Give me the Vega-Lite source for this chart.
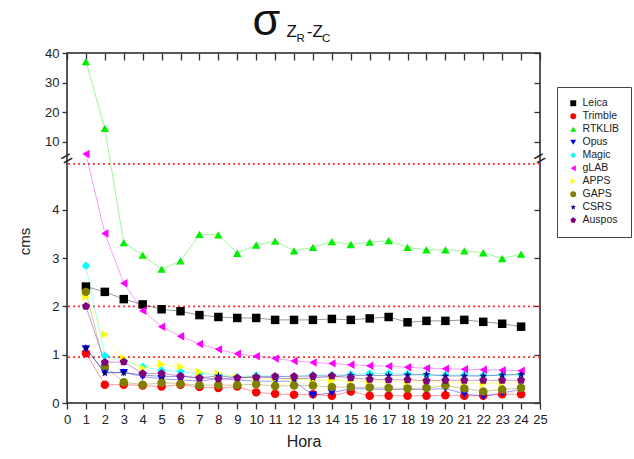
{
  "$schema": "https://vega.github.io/schema/vega-lite/v6.json",
  "width": 473,
  "height": 350,
  "autosize": {"type": "none"},
  "padding": {"left": 67, "top": 53, "right": 94, "bottom": 56},
  "background": "white",
  "config": {
    "font": "Liberation Sans",
    "view": {"stroke": "#222", "strokeWidth": 1.5},
    "axis": {"grid": false, "domain": false, "labelColor": "#222", "tickColor": "#333", "tickWidth": 1.3, "labelFontSize": 13, "titleFontWeight": "normal", "titleColor": "#222"},
    "legend": {"strokeColor": "#444", "padding": 11, "labelFontSize": 10.5, "labelColor": "#222", "symbolSize": 35, "rowPadding": 2, "labelOffset": 4}
  },
  "title": {
    "text": "σ",
    "subtitle": "\u200b\u2003\u2003Z\u2002\u200a-Z",
    "anchor": "middle",
    "align": "left",
    "dx": -51,
    "fontSize": 45,
    "fontWeight": "normal",
    "color": "#111",
    "subtitleFontSize": 17,
    "subtitleColor": "#111",
    "subtitlePadding": -20,
    "offset": -12
  },
  "datasets": {
    "series": [
      {"h": 1, "Leica": 2.41, "Trimble": 1.03, "RTKLIB": 37.1, "Opus": 1.12, "Magic": 2.84, "gLAB": 6.5, "APPS": 2.2, "GAPS": 2.30, "CSRS": 1.14, "Auspos": 2.00},
      {"h": 2, "Leica": 2.30, "Trimble": 0.38, "RTKLIB": 14.5, "Opus": 0.64, "Magic": 0.98, "gLAB": 3.51, "APPS": 1.42, "GAPS": 0.76, "CSRS": 0.62, "Auspos": 0.84},
      {"h": 3, "Leica": 2.15, "Trimble": 0.38, "RTKLIB": 3.32, "Opus": 0.63, "Magic": 0.88, "gLAB": 2.48, "APPS": 0.92, "GAPS": 0.43, "CSRS": 0.63, "Auspos": 0.85},
      {"h": 4, "Leica": 2.04, "Trimble": 0.36, "RTKLIB": 3.06, "Opus": 0.55, "Magic": 0.75, "gLAB": 1.91, "APPS": 0.72, "GAPS": 0.38, "CSRS": 0.58, "Auspos": 0.61},
      {"h": 5, "Leica": 1.94, "Trimble": 0.34, "RTKLIB": 2.77, "Opus": 0.50, "Magic": 0.68, "gLAB": 1.58, "APPS": 0.80, "GAPS": 0.42, "CSRS": 0.55, "Auspos": 0.61},
      {"h": 6, "Leica": 1.90, "Trimble": 0.38, "RTKLIB": 2.94, "Opus": 0.48, "Magic": 0.65, "gLAB": 1.38, "APPS": 0.75, "GAPS": 0.40, "CSRS": 0.55, "Auspos": 0.56},
      {"h": 7, "Leica": 1.82, "Trimble": 0.33, "RTKLIB": 3.49, "Opus": 0.45, "Magic": 0.61, "gLAB": 1.22, "APPS": 0.64, "GAPS": 0.37, "CSRS": 0.52, "Auspos": 0.52},
      {"h": 8, "Leica": 1.78, "Trimble": 0.31, "RTKLIB": 3.48, "Opus": 0.50, "Magic": 0.58, "gLAB": 1.11, "APPS": 0.61, "GAPS": 0.37, "CSRS": 0.56, "Auspos": 0.50},
      {"h": 9, "Leica": 1.76, "Trimble": 0.34, "RTKLIB": 3.10, "Opus": 0.48, "Magic": 0.54, "gLAB": 1.02, "APPS": 0.54, "GAPS": 0.37, "CSRS": 0.52, "Auspos": 0.52},
      {"h": 10, "Leica": 1.76, "Trimble": 0.22, "RTKLIB": 3.27, "Opus": 0.45, "Magic": 0.57, "gLAB": 0.97, "APPS": 0.50, "GAPS": 0.39, "CSRS": 0.55, "Auspos": 0.53},
      {"h": 11, "Leica": 1.72, "Trimble": 0.19, "RTKLIB": 3.35, "Opus": 0.45, "Magic": 0.55, "gLAB": 0.92, "APPS": 0.50, "GAPS": 0.35, "CSRS": 0.52, "Auspos": 0.55},
      {"h": 12, "Leica": 1.72, "Trimble": 0.17, "RTKLIB": 3.15, "Opus": 0.45, "Magic": 0.55, "gLAB": 0.87, "APPS": 0.49, "GAPS": 0.36, "CSRS": 0.50, "Auspos": 0.55},
      {"h": 13, "Leica": 1.72, "Trimble": 0.18, "RTKLIB": 3.22, "Opus": 0.16, "Magic": 0.58, "gLAB": 0.84, "APPS": 0.48, "GAPS": 0.36, "CSRS": 0.52, "Auspos": 0.56},
      {"h": 14, "Leica": 1.74, "Trimble": 0.15, "RTKLIB": 3.34, "Opus": 0.21, "Magic": 0.58, "gLAB": 0.82, "APPS": 0.47, "GAPS": 0.33, "CSRS": 0.55, "Auspos": 0.56},
      {"h": 15, "Leica": 1.72, "Trimble": 0.24, "RTKLIB": 3.28, "Opus": 0.30, "Magic": 0.59, "gLAB": 0.79, "APPS": 0.46, "GAPS": 0.33, "CSRS": 0.57, "Auspos": 0.52},
      {"h": 16, "Leica": 1.75, "Trimble": 0.15, "RTKLIB": 3.33, "Opus": 0.29, "Magic": 0.61, "gLAB": 0.77, "APPS": 0.45, "GAPS": 0.32, "CSRS": 0.57, "Auspos": 0.49},
      {"h": 17, "Leica": 1.78, "Trimble": 0.15, "RTKLIB": 3.36, "Opus": 0.28, "Magic": 0.61, "gLAB": 0.76, "APPS": 0.45, "GAPS": 0.31, "CSRS": 0.57, "Auspos": 0.48},
      {"h": 18, "Leica": 1.67, "Trimble": 0.15, "RTKLIB": 3.22, "Opus": 0.28, "Magic": 0.60, "gLAB": 0.74, "APPS": 0.44, "GAPS": 0.30, "CSRS": 0.58, "Auspos": 0.48},
      {"h": 19, "Leica": 1.70, "Trimble": 0.15, "RTKLIB": 3.17, "Opus": 0.28, "Magic": 0.58, "gLAB": 0.72, "APPS": 0.44, "GAPS": 0.31, "CSRS": 0.59, "Auspos": 0.46},
      {"h": 20, "Leica": 1.70, "Trimble": 0.16, "RTKLIB": 3.17, "Opus": 0.30, "Magic": 0.58, "gLAB": 0.71, "APPS": 0.44, "GAPS": 0.36, "CSRS": 0.56, "Auspos": 0.47},
      {"h": 21, "Leica": 1.72, "Trimble": 0.15, "RTKLIB": 3.15, "Opus": 0.19, "Magic": 0.58, "gLAB": 0.70, "APPS": 0.42, "GAPS": 0.30, "CSRS": 0.56, "Auspos": 0.47},
      {"h": 22, "Leica": 1.68, "Trimble": 0.15, "RTKLIB": 3.11, "Opus": 0.14, "Magic": 0.57, "gLAB": 0.69, "APPS": 0.40, "GAPS": 0.24, "CSRS": 0.56, "Auspos": 0.47},
      {"h": 23, "Leica": 1.64, "Trimble": 0.18, "RTKLIB": 2.99, "Opus": 0.21, "Magic": 0.58, "gLAB": 0.68, "APPS": 0.42, "GAPS": 0.28, "CSRS": 0.58, "Auspos": 0.47},
      {"h": 24, "Leica": 1.58, "Trimble": 0.18, "RTKLIB": 3.08, "Opus": 0.28, "Magic": 0.59, "gLAB": 0.67, "APPS": 0.44, "GAPS": 0.31, "CSRS": 0.59, "Auspos": 0.47}
    ],
    "refs": [{"v": 0.95}, {"v": 2}, {"v": 4.95}],
    "brk": [{"h": 0, "v": 5.05}, {"h": 25, "v": 5.05}],
    "frame": [{"h": 0, "v": 0}]
  },
  "layer": [
    {
      "data": {"name": "refs"},
      "mark": {"type": "rule", "color": "#ff3030", "strokeDash": [2, 3], "strokeWidth": 1.6},
      "encoding": {
        "y": {"field": "v", "type": "quantitative", "scale": {"domain": [0, 5.05, 10, 40], "range": [350, 106, 88.7, 0], "nice": false, "zero": false}, "axis": null}
      }
    },
    {
      "data": {"name": "series"},
      "transform": [{"fold": ["Leica", "Trimble", "RTKLIB", "Opus", "Magic", "gLAB", "APPS", "GAPS", "CSRS", "Auspos"], "as": ["s", "v"]}],
      "mark": {"type": "line", "strokeWidth": 1, "opacity": 0.4},
      "encoding": {
        "x": {"field": "h", "type": "quantitative", "scale": {"domain": [0, 25], "nice": false, "zero": false}, "axis": null},
        "y": {"field": "v", "type": "quantitative", "scale": {"domain": [0, 5.05, 10, 40], "range": [350, 106, 88.7, 0], "nice": false, "zero": false}, "axis": null},
        "stroke": {"field": "s", "type": "nominal", "legend": null,
          "scale": {"domain": ["APPS", "Auspos", "CSRS", "GAPS", "Leica", "Magic", "Opus", "RTKLIB", "Trimble", "gLAB"],
                    "range": ["#ffff00", "#800080", "#000080", "#808000", "#000000", "#00ffff", "#0000ff", "#00ee00", "#ff0000", "#ff00ff"]}}
      }
    },
    {
      "data": {"name": "series"},
      "transform": [{"fold": ["Leica", "Trimble", "RTKLIB", "Opus", "Magic", "gLAB", "APPS", "GAPS", "CSRS", "Auspos"], "as": ["s", "v"]}],
      "mark": {"type": "point", "filled": true, "size": 72, "opacity": 1},
      "encoding": {
        "x": {"field": "h", "type": "quantitative", "scale": {"domain": [0, 25], "nice": false, "zero": false},
          "axis": {"orient": "bottom", "values": [0,1,2,3,4,5,6,7,8,9,10,11,12,13,14,15,16,17,18,19,20,21,22,23,24,25], "tickSize": 6, "labelPadding": 4, "labelFontSize": 13, "labelFlush": false, "title": "Hora", "titleFontSize": 16, "titleY": 43, "titleBaseline": "alphabetic"}},
        "y": {"field": "v", "type": "quantitative", "scale": {"domain": [0, 5.05, 10, 40], "range": [350, 106, 88.7, 0], "nice": false, "zero": false},
          "axis": {"orient": "left", "values": [0, 1, 2, 3, 4, 10, 20, 30, 40], "tickSize": 5, "labelPadding": 3, "labelFontSize": 13, "title": "cms", "titleFontSize": 15, "titleX": -43, "titleY": 188, "titleAngle": -90, "titleAlign": "center", "titleBaseline": "middle"}},
        "color": {"field": "s", "type": "nominal",
          "scale": {"domain": ["Leica", "Trimble", "RTKLIB", "Opus", "Magic", "gLAB", "APPS", "GAPS", "CSRS", "Auspos"],
                    "range": ["#000000", "#ff0000", "#00ee00", "#0000ff", "#00ffff", "#ff00ff", "#ffff00", "#808000", "#000080", "#800080"]},
          "legend": {"orient": "none", "legendX": 490, "legendY": 34, "title": null}},
        "shape": {"field": "s", "type": "nominal",
          "scale": {"domain": ["Leica", "Trimble", "RTKLIB", "Opus", "Magic", "gLAB", "APPS", "GAPS", "CSRS", "Auspos"],
                    "range": ["square", "circle", "triangle-up", "triangle-down", "diamond", "triangle-left", "triangle-right", "circle",
                              "M0,-1L0.2245,-0.309L0.951,-0.309L0.363,0.118L0.588,0.809L0,0.382L-0.588,0.809L-0.363,0.118L-0.951,-0.309L-0.2245,-0.309Z",
                              "M0,-1L0.951,-0.309L0.588,0.809L-0.588,0.809L-0.951,-0.309Z"]},
          "legend": {"orient": "none", "legendX": 490, "legendY": 34, "title": null}}
      }
    },
    {
      "data": {"name": "frame"},
      "mark": {"type": "point", "opacity": 0},
      "encoding": {
        "x": {"field": "h", "type": "quantitative", "scale": {"domain": [0, 25], "nice": false, "zero": false},
          "axis": {"orient": "top", "values": [0,1,2,3,4,5,6,7,8,9,10,11,12,13,14,15,16,17,18,19,20,21,22,23,24,25], "labels": false, "tickSize": -7,
                   "title": "R\u2003\u2002C", "titleFontSize": 11.5, "titleX": 229, "titleY": -12, "titleAlign": "left", "titleBaseline": "alphabetic", "titleColor": "#111"}},
        "y": {"field": "v", "type": "quantitative", "scale": {"domain": [0, 5.05, 10, 40], "range": [350, 106, 88.7, 0], "nice": false, "zero": false},
          "axis": {"orient": "right", "values": [0, 1, 2, 3, 4, 10, 20, 30, 40], "labels": false, "tickSize": -6, "title": null}}
      }
    },
    {
      "data": {"name": "brk"},
      "mark": {"type": "text", "text": "=", "fontSize": 20, "angle": 330, "align": "center", "baseline": "middle", "color": "#222"},
      "encoding": {
        "x": {"field": "h", "type": "quantitative", "scale": {"domain": [0, 25], "nice": false, "zero": false}, "axis": null},
        "y": {"field": "v", "type": "quantitative", "scale": {"domain": [0, 5.05, 10, 40], "range": [350, 106, 88.7, 0], "nice": false, "zero": false}, "axis": null}
      }
    }
  ]
}
